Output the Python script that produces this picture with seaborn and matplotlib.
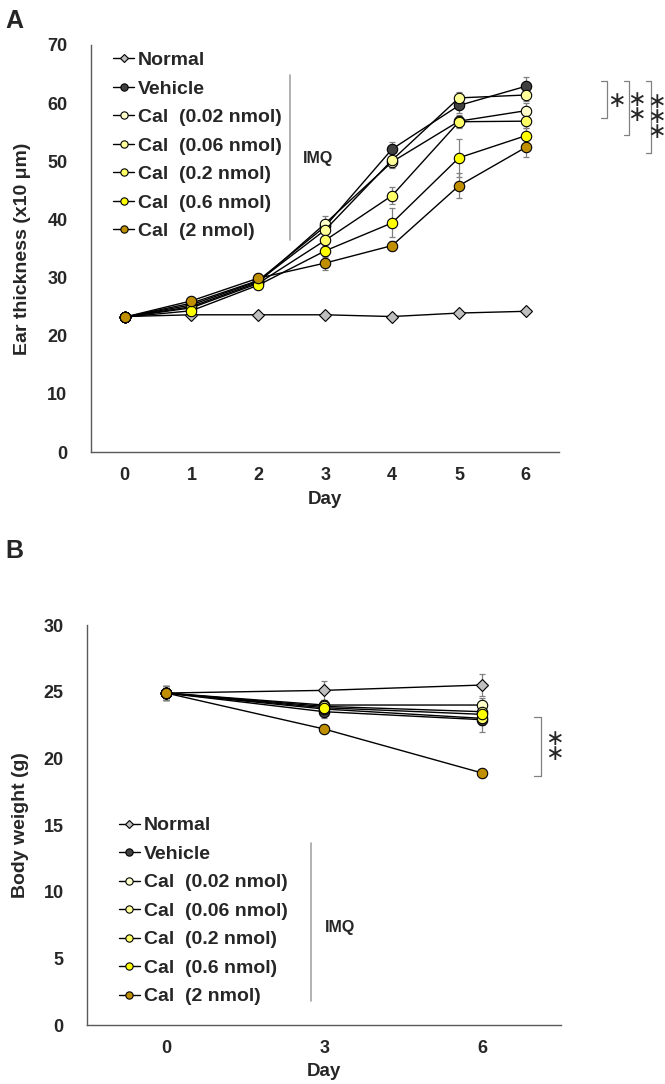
import numpy as np
import matplotlib
matplotlib.use('Agg')
import matplotlib.pyplot as plt
import seaborn as sns

# Groups, shared by both panels
groups = ['Normal', 'Vehicle', 'Cal  (0.02 nmol)', 'Cal  (0.06 nmol)',
          'Cal  (0.2 nmol)', 'Cal  (0.6 nmol)', 'Cal  (2 nmol)']
marker_colors = ['#BFBFBF', '#404040', '#FFFFCC', '#FFFF99',
                 '#FFFF66', '#FFFF00', '#BF8F00']
marker_shapes = ['D', 'o', 'o', 'o', 'o', 'o', 'o']

# Panel A - ear thickness (x10 um)
days_a = ['0', '1', '2', '3', '4', '5', '6']
ear_normal  = [23.3, 23.6, 23.6, 23.6, 23.3, 23.9, 24.2]
ear_vehicle = [23.2, 25.6, 29.5, 38.8, 52.1, 59.6, 62.9]
ear_cal002  = [23.2, 25.0, 29.2, 39.3, 49.9, 56.9, 58.7]
ear_cal006  = [23.2, 25.3, 29.4, 38.2, 50.2, 60.9, 61.4]
ear_cal02   = [23.2, 24.8, 29.0, 36.4, 44.1, 56.8, 56.9]
ear_cal06   = [23.2, 24.3, 28.7, 34.6, 39.4, 50.6, 54.4]
ear_cal2    = [23.2, 26.0, 29.9, 32.5, 35.5, 45.8, 52.4]

ear_err_normal  = [0.3, 0.3, 0.3, 0.3, 0.3, 0.3, 0.3]
ear_err_vehicle = [0.4, 0.5, 0.6, 1.0, 1.2, 1.3, 1.6]
ear_err_cal002  = [0.4, 0.5, 0.6, 1.3, 1.0, 1.0, 1.3]
ear_err_cal006  = [0.4, 0.5, 0.6, 1.0, 1.2, 1.0, 1.0]
ear_err_cal02   = [0.4, 0.5, 0.6, 1.2, 1.4, 1.0, 1.2]
ear_err_cal06   = [0.4, 0.5, 0.6, 1.0, 2.5, 3.3, 1.3]
ear_err_cal2    = [0.4, 0.6, 0.7, 1.2, 0.8, 2.1, 1.7]

# Panel B - body weight (g)
days_b = ['0', '3', '6']
bw_normal  = [24.9, 25.1, 25.5]
bw_vehicle = [24.9, 23.5, 22.9]
bw_cal002  = [24.9, 24.0, 24.0]
bw_cal006  = [24.9, 23.9, 23.5]
bw_cal02   = [24.9, 23.7, 23.0]
bw_cal06   = [24.9, 23.8, 23.3]
bw_cal2    = [24.9, 22.2, 18.9]

bw_err_normal  = [0.5, 0.7, 0.8]
bw_err_vehicle = [0.5, 0.5, 0.9]
bw_err_cal002  = [0.5, 0.4, 0.5]
bw_err_cal006  = [0.5, 0.4, 0.5]
bw_err_cal02   = [0.5, 0.4, 0.5]
bw_err_cal06   = [0.5, 0.4, 0.5]
bw_err_cal2    = [0.5, 0.3, 0.3]

ear_means = [ear_normal, ear_vehicle, ear_cal002, ear_cal006, ear_cal02, ear_cal06, ear_cal2]
ear_errs = [ear_err_normal, ear_err_vehicle, ear_err_cal002, ear_err_cal006,
            ear_err_cal02, ear_err_cal06, ear_err_cal2]
bw_means = [bw_normal, bw_vehicle, bw_cal002, bw_cal006, bw_cal02, bw_cal06, bw_cal2]
bw_errs = [bw_err_normal, bw_err_vehicle, bw_err_cal002, bw_err_cal006,
           bw_err_cal02, bw_err_cal06, bw_err_cal2]

sns.set_theme(style='white')
plt.rcParams['font.family'] = ['Liberation Sans', 'DejaVu Sans']
plt.rcParams['font.weight'] = 'bold'
plt.rcParams['axes.labelweight'] = 'bold'

fig = plt.figure(figsize=(6.65, 10.84), dpi=100)
ax_a = fig.add_axes([0.137, 0.583, 0.704, 0.3755])
ax_b = fig.add_axes([0.131, 0.0544, 0.713, 0.369])


def draw_panel(ax, days, means, errs):
    x = np.arange(len(days))
    for name, m, e, fc, mk in zip(groups, means, errs, marker_colors, marker_shapes):
        ax.errorbar(x, m, yerr=e, fmt='none', ecolor='#808080',
                    elinewidth=0.9, capsize=2.2, capthick=0.9, zorder=2)
        sns.lineplot(x=x, y=m, ax=ax, color='black', lw=1.0, marker=mk,
                     markersize=6.5 if mk == 'D' else 7.5,
                     markerfacecolor=fc, markeredgecolor='black',
                     markeredgewidth=0.8, label=name, legend=False, zorder=3)
    ax.set_xticks(x)
    ax.set_xticklabels(days)
    ax.set_xlim(-0.5, len(days) - 0.5)
    for s in ['top', 'right']:
        ax.spines[s].set_visible(False)
    for s in ['left', 'bottom']:
        ax.spines[s].set_color('#595959')
        ax.spines[s].set_linewidth(1.0)
    ax.tick_params(length=0, labelsize=13)
    ax.tick_params(axis='y', pad=17)
    ax.tick_params(axis='x', pad=11)


def sig_bracket(ax, x, y_top, y_bot, n_stars, x_star, y_mid, tick):
    ax.plot([x - tick, x, x, x - tick], [y_top, y_top, y_bot, y_bot],
            color='#808080', lw=0.9, clip_on=False)
    ax.text(x_star, y_mid, '\n'.join(['∗'] * n_stars), fontsize=16,
            fontweight='normal', family='DejaVu Sans', ha='center', va='center',
            linespacing=0.7, clip_on=False)


# Panel A
draw_panel(ax_a, days_a, ear_means, ear_errs)
ax_a.set_ylim(0, 70)
ax_a.set_yticks(range(0, 71, 10))
ax_a.set_ylabel('Ear thickness (x10 μm)', fontsize=14, fontweight='bold')
ax_a.yaxis.set_label_coords(-0.128, 0.5)
ax_a.set_xlabel('Day', fontsize=13.5, fontweight='bold', labelpad=5)
ax_a.legend(loc='upper left', bbox_to_anchor=(0.03, 1.003), frameon=False,
            fontsize=14, handlelength=1.1, handletextpad=0.2,
            labelspacing=0.56, markerscale=0.7, borderaxespad=0)
ax_a.plot([0.425, 0.425], [0.52, 0.926], transform=ax_a.transAxes,
          color='#A6A6A6', lw=1.2)
ax_a.text(0.452, 0.722, 'IMQ', transform=ax_a.transAxes, fontsize=11.5,
          fontweight='bold', va='center', ha='left')

sig_bracket(ax_a, 7.21, 63.8, 57.5, 1, 7.36, 60.4, 0.08)
sig_bracket(ax_a, 7.55, 63.8, 54.5, 2, 7.66, 59.3, 0.08)
sig_bracket(ax_a, 7.87, 63.8, 51.4, 3, 7.95, 57.6, 0.08)

# Panel B
draw_panel(ax_b, days_b, bw_means, bw_errs)
ax_b.set_ylim(0, 30)
ax_b.set_yticks(range(0, 31, 5))
ax_b.set_ylabel('Body weight (g)', fontsize=14, fontweight='bold')
ax_b.yaxis.set_label_coords(-0.122, 0.5)
ax_b.set_xlabel('Day', fontsize=13.5, fontweight='bold', labelpad=4)
ax_b.legend(loc='upper left', bbox_to_anchor=(0.05, 0.54), frameon=False,
            fontsize=14, handlelength=1.1, handletextpad=0.2,
            labelspacing=0.56, markerscale=0.7, borderaxespad=0)
ax_b.plot([0.473, 0.473], [0.06, 0.455], transform=ax_b.transAxes,
          color='#A6A6A6', lw=1.2)
ax_b.text(0.502, 0.245, 'IMQ', transform=ax_b.transAxes, fontsize=11.5,
          fontweight='bold', va='center', ha='left')

sig_bracket(ax_b, 2.37, 23.1, 18.7, 2, 2.46, 20.9, 0.04)

fig.text(0.008, 0.992, 'A', fontsize=18, fontweight='bold', va='top', ha='left')
fig.text(0.008, 0.503, 'B', fontsize=18, fontweight='bold', va='top', ha='left')

fig.savefig('out.png', dpi=100)
